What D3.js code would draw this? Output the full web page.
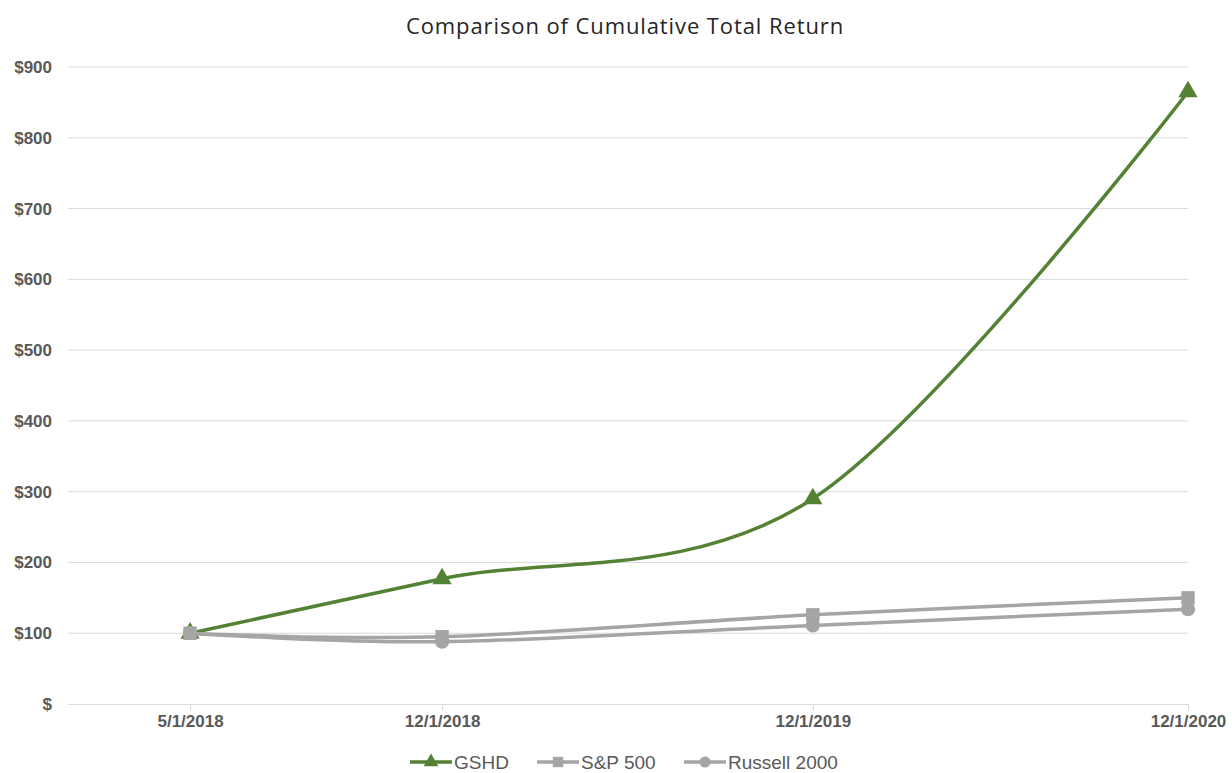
<!DOCTYPE html>
<html>
<head>
<meta charset="utf-8">
<script src="https://cdn.jsdelivr.net/npm/d3@7"></script>
<style>
  body { margin: 0; background: #fff; }
  svg { display: block; }
</style>
</head>
<body>
<script>
"use strict";

// data
var dates = ["5/1/2018", "12/1/2018", "12/1/2019", "12/1/2020"];
var gshd = [100, 177, 290, 865];
var sp500 = [100, 95, 126, 150];
var russell = [100, 88, 111, 134];
var yTicks = [0, 100, 200, 300, 400, 500, 600, 700, 800, 900];

var width = 1232,
    height = 773,
    margin = { top: 67, right: 44, bottom: 69, left: 68 },
    innerW = width - margin.left - margin.right,
    innerH = height - margin.top - margin.bottom;

var parse = d3.timeParse("%m/%d/%Y");
var axisStart = parse("12/1/2017");

// Excel placed the points on an uneven date axis, so use a piecewise time scale
var x = d3.scaleTime()
    .domain([axisStart].concat(dates.map(parse)))
    .range([0, 0.109, 0.334, 0.665, 1].map(function (f) { return f * innerW; }));

var y = d3.scaleLinear()
    .domain([0, 900])
    .range([innerH, 0]);

var series = [
    { name: "GSHD", values: gshd, colour: "#548235", marker: "triangle" },
    { name: "S&P 500", values: sp500, colour: "#A5A5A5", marker: "square" },
    { name: "Russell 2000", values: russell, colour: "#A5A5A5", marker: "circle" }
];

var axisFont = "Arial, 'Liberation Sans', sans-serif";

var svg = d3.select("body").append("svg")
    .attr("width", width)
    .attr("height", height);

// title
svg.append("text")
    .attr("x", 625)
    .attr("y", 34)
    .attr("text-anchor", "middle")
    .style("font-family", "'Open Sans', sans-serif")
    .style("font-size", "22px")
    .style("letter-spacing", "0.9px")
    .style("fill", "#262626")
    .text("Comparison of Cumulative Total Return");

var g = svg.append("g")
    .attr("transform", "translate(" + margin.left + "," + margin.top + ")");

// gridlines
g.append("g")
    .selectAll("line")
    .data(yTicks.filter(function (d) { return d > 0; }))
    .enter().append("line")
    .attr("x1", 0)
    .attr("x2", innerW)
    .attr("y1", function (d) { return y(d); })
    .attr("y2", function (d) { return y(d); })
    .attr("stroke", "#D9D9D9")
    .attr("stroke-width", 1);

// y axis labels
var yAxis = d3.axisLeft(y)
    .tickValues(yTicks)
    .tickSize(0)
    .tickPadding(16)
    .tickFormat(function (d) { return d === 0 ? "$" : "$" + d; });

g.append("g")
    .call(yAxis)
    .call(function (s) { s.select(".domain").remove(); })
    .selectAll("text")
    .style("font-family", axisFont)
    .style("font-size", "17px")
    .style("font-weight", "bold")
    .style("fill", "#595959");

// x axis
var xAxis = d3.axisBottom(x)
    .tickValues(dates.map(parse))
    .tickSize(7)
    .tickSizeOuter(0)
    .tickPadding(4)
    .tickFormat(d3.timeFormat("%-m/%-d/%Y"));

var xg = g.append("g")
    .attr("transform", "translate(0," + innerH + ")")
    .call(xAxis);
xg.select(".domain").attr("stroke", "#D9D9D9");
xg.selectAll(".tick line").attr("stroke", "#D9D9D9");
xg.selectAll("text")
    .style("font-family", axisFont)
    .style("font-size", "17px")
    .style("font-weight", "bold")
    .style("fill", "#595959");

// lines
var line = d3.line()
    .x(function (d, i) { return x(parse(dates[i])); })
    .y(function (d) { return y(d); })
    .curve(d3.curveCardinal.tension(0));

var symbolType = {
    triangle: d3.symbolTriangle,
    square: d3.symbolSquare,
    circle: d3.symbolCircle
};
var symbolSize = { triangle: 160, square: 180, circle: 160 };

// series order as in Excel: later series drawn on top
series.forEach(function (s) {
    g.append("path")
        .datum(s.values)
        .attr("fill", "none")
        .attr("stroke", s.colour)
        .attr("stroke-width", 3.5)
        .attr("d", line);

    g.append("g")
        .selectAll("path")
        .data(s.values)
        .enter().append("path")
        .attr("transform", function (d, i) {
            return "translate(" + x(parse(dates[i])) + "," + y(d) + ")";
        })
        .attr("d", d3.symbol().type(symbolType[s.marker]).size(symbolSize[s.marker]))
        .attr("fill", s.colour);
});

// legend
var legendX = [410, 537, 684];
var legend = svg.append("g")
    .attr("transform", "translate(0,762)")
    .selectAll("g")
    .data(series)
    .enter().append("g")
    .attr("transform", function (d, i) { return "translate(" + legendX[i] + ",0)"; });

legend.append("line")
    .attr("x1", 0)
    .attr("x2", 42)
    .attr("stroke", function (d) { return d.colour; })
    .attr("stroke-width", 3.5);

legend.append("path")
    .attr("transform", "translate(21,0)")
    .attr("d", function (d) {
        return d3.symbol().type(symbolType[d.marker]).size(symbolSize[d.marker] * 0.6)();
    })
    .attr("fill", function (d) { return d.colour; });

legend.append("text")
    .attr("x", 44)
    .attr("dy", "0.36em")
    .style("font-family", axisFont)
    .style("font-size", "19px")
    .style("fill", "#595959")
    .text(function (d) { return d.name; });
</script>
</body>
</html>
